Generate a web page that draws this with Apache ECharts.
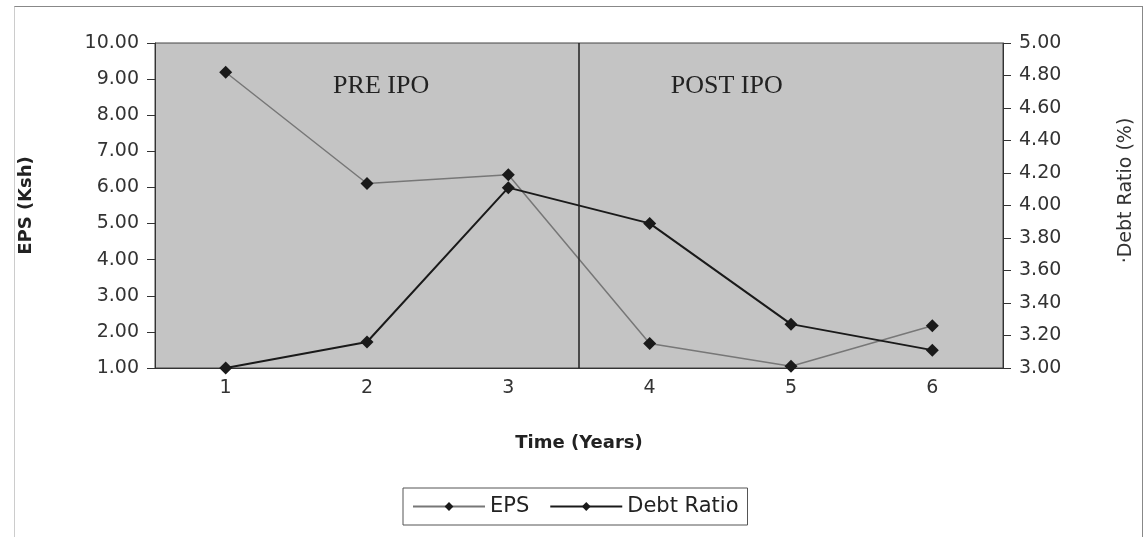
<!DOCTYPE html>
<html>
<head>
<meta charset="utf-8">
<script src="https://cdn.jsdelivr.net/npm/echarts@6/dist/echarts.min.js"></script>
<style>
  html, body { margin: 0; padding: 0; background: #fff; }
  #frame {
    position: absolute; left: 14px; top: 6px; width: 1127px; height: 531px;
    border-top: 1px solid #888; border-right: 1px solid #888; border-left: 1px solid #ccc;
  }
  #chart { position: absolute; left: 0; top: 0; width: 1148px; height: 537px; }
</style>
</head>
<body>
<div id="frame"></div>
<div id="chart"></div>
<script>
// data
const years = ['1', '2', '3', '4', '5', '6']
const eps = [9.19, 6.11, 6.35, 1.68, 1.05, 2.17]          // left axis, Ksh
const debtRatio = [3.00, 3.16, 4.11, 3.89, 3.27, 3.11]    // right axis, %
const dividerAt = 3.5                                      // between year 3 and 4
const periodLabels = ['PRE IPO', 'POST IPO']
const periodPos = [[2.10, 8.8], [4.545, 8.8]]

var chartDom = document.getElementById('chart')
var myChart = echarts.init(chartDom)

var sans = 'DejaVu Sans, Liberation Sans, Arial'
var labelFont = { fontFamily: sans, fontSize: 19, color: '#333' }
var nameFont = { fontFamily: sans, fontSize: 18, fontWeight: 'bold', color: '#222' }

var option = {
  animation: false,
  grid: {
    left: 155,
    right: 145,
    top: 43,
    bottom: 169,
    show: true,
    backgroundColor: '#c4c4c4',
    borderColor: '#444',
    borderWidth: 1
  },
  legend: {
    data: ['EPS', 'Debt Ratio'],
    left: 403,
    top: 488,
    padding: [8, 9, 8, 9],
    itemWidth: 72,
    itemHeight: 11,
    itemGap: 20,
    borderColor: '#555',
    borderWidth: 1,
    textStyle: { fontFamily: sans, fontSize: 21, color: '#222' }
  },
  xAxis: [
    {
      type: 'category',
      data: years,
      boundaryGap: true,
      name: 'Time (Years)',
      nameLocation: 'middle',
      nameGap: 66,
      nameTextStyle: nameFont,
      axisLine: { lineStyle: { color: '#333' } },
      axisTick: { length: 7, lineStyle: { color: '#333' } },
      axisLabel: Object.assign({ margin: 11 }, labelFont)
    },
    {
      // hidden helper axis for the divider line and period labels
      type: 'value',
      show: false,
      min: 0.5,
      max: 6.5
    }
  ],
  yAxis: [
    {
      type: 'value',
      min: 1,
      max: 10,
      interval: 1,
      name: 'EPS (Ksh)',
      nameLocation: 'middle',
      nameRotate: 90,
      nameGap: 120,
      nameTextStyle: nameFont,
      splitLine: { show: false },
      axisLine: { show: true, lineStyle: { color: '#333' } },
      axisTick: { show: true, length: 8, lineStyle: { color: '#333' } },
      axisLabel: Object.assign({ margin: 16, formatter: v => v.toFixed(2) }, labelFont)
    },
    {
      type: 'value',
      min: 3,
      max: 5,
      interval: 0.2,
      position: 'right',
      name: '·Debt Ratio (%)',
      nameLocation: 'middle',
      nameRotate: 90,
      nameGap: 114,
      nameTextStyle: {
        fontFamily: sans, fontSize: 19, fontWeight: 'normal', color: '#333',
        padding: [0, 0, 0, 30]
      },
      splitLine: { show: false },
      axisLine: { show: true, lineStyle: { color: '#333' } },
      axisTick: { show: true, length: 8, lineStyle: { color: '#333' } },
      axisLabel: Object.assign({ margin: 16, formatter: v => v.toFixed(2) }, labelFont)
    }
  ],
  series: [
    {
      name: 'EPS',
      type: 'line',
      yAxisIndex: 0,
      data: eps,
      symbol: 'diamond',
      symbolSize: 13,
      color: '#777',
      lineStyle: { color: '#777', width: 1.5 },
      itemStyle: { color: '#1a1a1a' }
    },
    {
      name: 'Debt Ratio',
      type: 'line',
      yAxisIndex: 1,
      data: debtRatio,
      symbol: 'diamond',
      symbolSize: 13,
      color: '#1a1a1a',
      lineStyle: { color: '#1a1a1a', width: 2 },
      itemStyle: { color: '#1a1a1a' }
    },
    {
      name: 'divider',
      type: 'line',
      xAxisIndex: 1,
      yAxisIndex: 0,
      data: [],
      silent: true,
      markLine: {
        silent: true,
        symbol: 'none',
        label: { show: false },
        lineStyle: { color: '#222', width: 1.5, type: 'solid' },
        data: [[{ coord: [dividerAt, 1] }, { coord: [dividerAt, 10] }]]
      },
      markPoint: {
        silent: true,
        symbol: 'circle',
        symbolSize: 1,
        itemStyle: { color: 'rgba(0,0,0,0)' },
        label: {
          show: true,
          position: 'inside',
          formatter: p => p.name,
          fontFamily: 'Liberation Serif, Times New Roman',
          fontSize: 26,
          color: '#222'
        },
        data: periodLabels.map((n, i) => ({ name: n, coord: periodPos[i] }))
      }
    }
  ]
}

option && myChart.setOption(option)
</script>
</body>
</html>
